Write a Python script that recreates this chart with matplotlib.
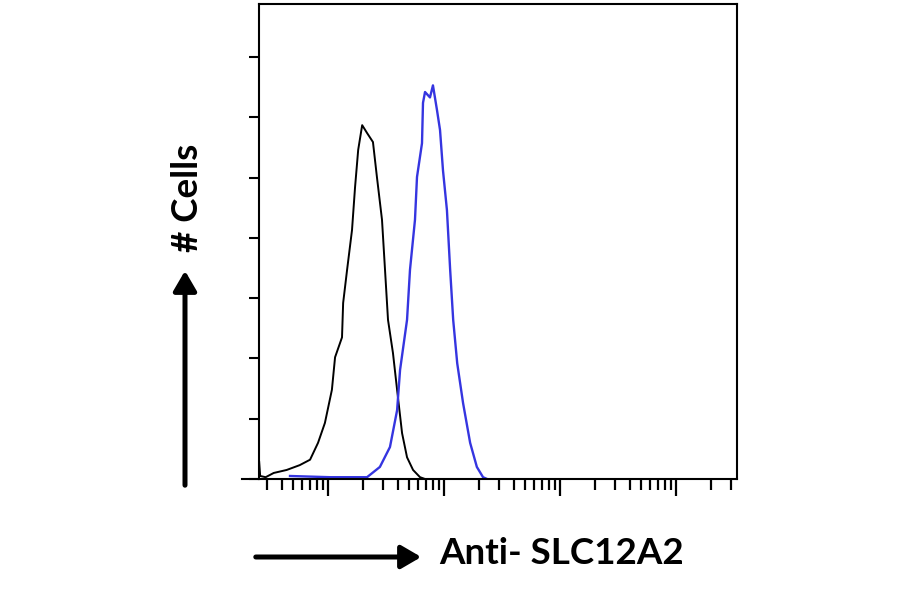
import numpy as np
import matplotlib
matplotlib.use("Agg")
from matplotlib import pyplot as plt
from matplotlib.lines import Line2D

# isotype control (black) - channel value vs count (scaled units)
iso_x = [2.55, 2.6, 2.9, 3.4, 4.4, 5.7, 7.0, 8.2, 9.4, 10.8, 11.5, 13.2, 13.5, 14.6,
         16.1, 17.1, 18.2, 19.7, 21.7, 24.4, 26.4, 29.2, 31.0, 32.9, 36.3, 39.4,
         43.5, 48.0, 54.1, 62.1, 68.6]
iso_y = [0.28, 0.05, 0.03, 0.10, 0.15, 0.23, 0.32, 0.60, 0.93, 1.48, 2.02, 2.35, 2.92, 3.47,
         4.13, 4.84, 5.46, 5.87, 5.74, 5.59, 5.01, 4.30, 3.47, 2.64, 2.09, 1.48,
         0.76, 0.36, 0.15, 0.03, 0.0]

# Anti-SLC12A2 stained (blue)
ab_x = [4.7, 10.4, 21.7, 28.0, 34.2, 39.4, 41.8, 48.0, 50.9, 56.2, 58.5, 64.6, 65.9,
        68.6, 75.7, 80.3, 87.0, 92.4, 98.0, 106, 113, 120, 130, 146, 168, 192, 217, 235]
ab_y = [0.05, 0.03, 0.03, 0.20, 0.53, 1.14, 1.81, 2.64, 3.47, 4.30, 5.01, 5.57, 6.24,
        6.42, 6.33, 6.53, 6.12, 5.79, 5.12, 4.46, 3.47, 2.64, 1.92, 1.26, 0.60, 0.20, 0.03, 0.0]

x_range = [2.54, 33600]
y_ticks = [0, 1, 2, 3, 4, 5, 6, 7]
y_top = 7.88

fig = plt.figure(figsize=(9, 5.94), dpi=100)
ax = fig.add_axes([259/900, 1-479/594, 478/900, 475/594])

ax.plot(iso_x, iso_y, color="black", lw=1.4)
ax.plot(ab_x, ab_y, color="#3535e0", lw=1.7)

ax.set_xscale("log")
ax.set_xlim(x_range)
ax.set_ylim(0, y_top)
ax.set_yticks(y_ticks)
ax.set_yticklabels([])
ax.xaxis.set_major_locator(matplotlib.ticker.LogLocator(base=10))
ax.xaxis.set_minor_locator(matplotlib.ticker.LogLocator(base=10, subs=np.arange(2, 10)))
ax.xaxis.set_major_formatter(matplotlib.ticker.NullFormatter())
ax.xaxis.set_minor_formatter(matplotlib.ticker.NullFormatter())

for s in ax.spines.values():
	s.set_linewidth(1.5)
ax.tick_params(axis="y", direction="out", length=7.5, width=1.5)
ax.tick_params(axis="x", which="major", direction="out", length=12, width=1.6)
ax.tick_params(axis="x", which="minor", direction="out", length=8, width=1.6)

# x axis line sticks out a bit to the left
ax.add_line(Line2D([-0.036, 0], [0, 0], transform=ax.transAxes, color="black",
				   lw=1.5, clip_on=False))

# axis labels with arrows
fig.text(439/900, 1-554/594, "Anti- SLC12A2", fontsize=26.5, fontweight="bold",
		 family=["Lato", "DejaVu Sans"], ha="left", va="center")
fig.text(187/900, 1-198/594, "# Cells", fontsize=26.5, fontweight="bold",
		 family=["Lato", "DejaVu Sans"], rotation=90, ha="center", va="center")

fig.add_artist(matplotlib.patches.FancyArrowPatch((253/900, 1-557/594), (424/900, 1-557/594),
		transform=fig.transFigure, arrowstyle="-|>,head_length=6,head_width=3.5",
		lw=3.6, color="black", mutation_scale=2))
fig.add_artist(matplotlib.patches.FancyArrowPatch((185/900, 1-488/594), (185/900, 1-268/594),
		transform=fig.transFigure, arrowstyle="-|>,head_length=6,head_width=3.5",
		lw=3.6, color="black", mutation_scale=2))

fig.savefig("out.png", dpi=100)
